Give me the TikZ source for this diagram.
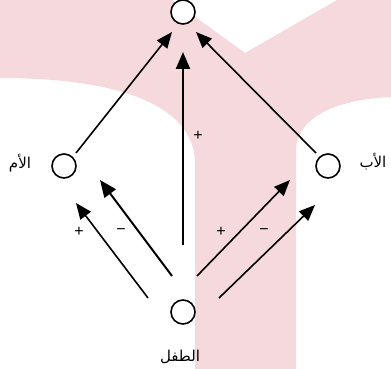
\documentclass[tikz,border=0pt]{standalone}
\usepackage{fontspec}
\setmainfont{Liberation Sans}
\newfontfamily\arabicfont[Script=Arabic]{DejaVu Sans}
\TeXXeTstate=1
\usetikzlibrary{arrows.meta}
\definecolor{bgpink}{RGB}{246,217,221}
\tikzset{
  circ/.style={circle,draw=black,fill=white,line width=1.6pt,minimum size=24pt,inner sep=0pt},
  arlabel/.style={font=\arabicfont\fontsize{15}{18}\selectfont,inner sep=0pt},
  sign/.style={font=\fontsize{16}{18}\selectfont,inner sep=0pt},
  conn/.style={line width=1.6pt,-{Triangle[length=16pt,width=13pt]}},
  thickconn/.style={line width=2.2pt,-{Triangle[length=17pt,width=14pt]}}
}
\begin{document}
\begin{tikzpicture}[x=1pt,y=-1pt]
\useasboundingbox (0,0) rectangle (391,369);
% background watermark
\fill[bgpink] (0,0) -- (172,0) -- (245,53) -- (337,0) -- (391,0) -- (391,97)
  .. controls (330,100) and (297,120) .. (296,150) -- (296,369) -- (195,369) -- (195,160)
  .. controls (192,110) and (130,78) .. (0,78) -- cycle;
% nodes
\node[circ] (top) at (183,12) {};
\node[circ] (mother) at (64,166) {};
\node[circ] (father) at (328,166) {};
\node[circ] (child) at (183,312) {};
\node[arlabel] (lm) at (20,163) {\beginR الأم\endR};
\node[arlabel] (lf) at (373,162) {\beginR الأب\endR};
\node[arlabel] (lc) at (180,357) {\beginR الطفل\endR};
% connector ends
\coordinate (a1s) at (76,153); \coordinate (a1e) at (172,32);
\coordinate (a2s) at (183,245); \coordinate (a2e) at (183,52);
\coordinate (a3s) at (316,153); \coordinate (a3e) at (196,32);
\coordinate (a4s) at (148,298); \coordinate (a4e) at (76,203);
\coordinate (a5s) at (172,276); \coordinate (a5e) at (100,180);
\coordinate (a6s) at (197,276); \coordinate (a6e) at (290,180);
\coordinate (a7s) at (219,298); \coordinate (a7e) at (315,205);
\draw[conn] (a1s) -- (a1e);
\draw[thickconn] (a2s) -- (a2e);
\draw[conn] (a3s) -- (a3e);
\draw[conn] (a4s) -- (a4e);
\draw[thickconn,line width=2pt] (a5s) -- (a5e);
\draw[conn] (a6s) -- (a6e);
\draw[conn] (a7s) -- (a7e);
% signs
\node[sign] (s1) at (198,136) {+};
\node[sign] (s2) at (79,232) {+};
\node[sign] (s3) at (121,232) {−};
\node[sign] (s4) at (221,232) {+};
\node[sign] (s5) at (264,232) {−};
\end{tikzpicture}
\end{document}
